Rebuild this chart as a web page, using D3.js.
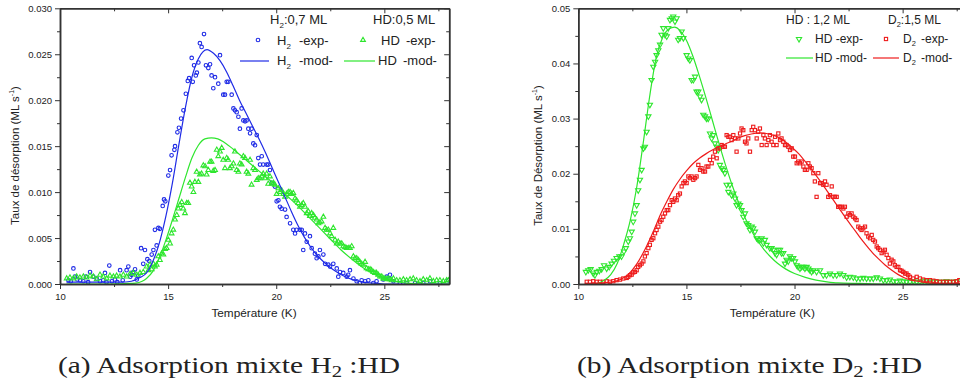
<!DOCTYPE html>
<html><head><meta charset="utf-8">
<script src="https://cdn.jsdelivr.net/npm/d3@7"></script>
<style>
body{margin:0;background:#fff}
svg text{fill:#222}
.sans{font-family:"Liberation Sans",Arial,sans-serif}
.serif{font-family:"Liberation Serif","Times New Roman",serif}
</style></head>
<body><svg id="c" width="960" height="385"></svg>
<script>
// ---------- data ----------
const xDomain = [10, 28];
const xMajorTicks = [10, 15, 20, 25];
const xMinorTicks = [12.5, 17.5, 22.5, 27.5];
const yTicksA = [0, 0.005, 0.010, 0.015, 0.020, 0.025, 0.030];
const yMinorA = [0.0025, 0.0075, 0.0125, 0.0175, 0.0225, 0.0275];
const yTicksB = [0, 0.01, 0.02, 0.03, 0.04, 0.05];
const yMinorB = [0.005, 0.015, 0.025, 0.035, 0.045];

// panel (a) H2 experimental (T [K], rate [ML/s])
const h2ExpA = [[10.39,0.0004],[10.5,0.0003],[10.62,0.0017],[10.69,0.0008],[10.8,0.0005],[10.93,0.0004],[11.08,0.0003],[11.2,0.0008],[11.3,0.0002],[11.39,0.0013],[11.54,0.0008],[11.7,0.0006],[11.85,0.0003],[12.0,0.0004],[12.08,0.0012],[12.15,0.0002],[12.28,0.002],[12.4,0.0003],[12.54,0.0005],[12.65,0.0002],[12.78,0.0015],[12.9,0.0004],[13.08,0.0015],[13.16,0.0019],[13.25,0.0008],[13.31,0.001],[13.39,0.0013],[13.47,0.0016],[13.55,0.0005],[13.62,0.0009],[13.75,0.0039],[13.85,0.0022],[13.93,0.0037],[14.04,0.0027],[14.13,0.0025],[14.24,0.0032],[14.32,0.0037],[14.39,0.0059],[14.47,0.0042],[14.55,0.0061],[14.62,0.006],[14.75,0.0085],[14.81,0.0092],[14.87,0.009],[15.01,0.0118],[15.09,0.0124],[15.16,0.014],[15.29,0.0146],[15.32,0.015],[15.43,0.0165],[15.5,0.017],[15.6,0.018],[15.71,0.0189],[15.82,0.0207],[15.91,0.0221],[15.97,0.0224],[16.09,0.0246],[16.14,0.022],[16.2,0.0238],[16.28,0.0227],[16.33,0.023],[16.4,0.0241],[16.47,0.0262],[16.55,0.0258],[16.66,0.0272],[16.75,0.0238],[16.86,0.0235],[16.94,0.0239],[17.01,0.0227],[17.09,0.0213],[17.17,0.0225],[17.32,0.0218],[17.4,0.0249],[17.55,0.0206],[17.63,0.0206],[17.71,0.022],[17.78,0.022],[17.94,0.0206],[18.02,0.0191],[18.09,0.0189],[18.17,0.0187],[18.25,0.0182],[18.32,0.0169],[18.4,0.0191],[18.48,0.0178],[18.56,0.0177],[18.63,0.0178],[18.71,0.0169],[18.79,0.0164],[18.86,0.0169],[18.94,0.0153],[19.02,0.0151],[19.1,0.0162],[19.17,0.0137],[19.25,0.013],[19.33,0.0139],[19.4,0.013],[19.56,0.013],[19.63,0.013],[19.71,0.0124],[19.79,0.011],[19.94,0.0106],[20.02,0.009],[20.1,0.0091],[20.17,0.0084],[20.25,0.0082],[20.41,0.0081],[20.48,0.0073],[20.64,0.0066],[20.79,0.0059],[20.87,0.0055],[20.94,0.0059],[21.1,0.0059],[21.18,0.0059],[21.25,0.0037],[21.33,0.0055],[21.41,0.0046],[21.56,0.0052],[21.64,0.0039],[21.79,0.0033],[21.87,0.0028],[21.95,0.003],[22.02,0.0037],[22.18,0.0032],[22.26,0.0022],[22.41,0.0021],[22.49,0.0019],[22.64,0.0022],[22.8,0.0017],[22.87,0.0008],[22.95,0.0013],[23.1,0.0012],[23.26,0.0008],[23.33,0.001],[23.41,0.0015],[23.57,0.0006],[23.72,0.0003],[23.87,0.0001],[23.95,0.0004],[24.11,0.0003],[24.26,0.0004],[24.49,0.0001],[24.64,0.0003],[24.95,0.0005],[25.11,0.0008],[25.26,0.001],[25.42,0.0003],[25.72,0.0001],[26.03,0.0001],[26.42,0.0001],[26.8,0.0001],[27.11,0.0003],[27.57,0.0001],[27.96,0.0004]];

// panel (a) HD experimental
const hdExpA = [[10.31,0.0006],[10.46,0.0007],[10.62,0.0006],[10.77,0.0008],[10.92,0.0007],[11.08,0.0008],[11.23,0.0007],[11.39,0.0009],[11.54,0.0008],[11.70,0.0005],[11.85,0.001],[12.00,0.0008],[12.16,0.0006],[12.31,0.0009],[12.47,0.0008],[12.62,0.0009],[12.77,0.0008],[12.93,0.001],[13.08,0.0008],[13.24,0.0011],[13.39,0.0012],[13.55,0.001],[13.70,0.0012],[13.85,0.0013],[14.01,0.0019],[14.09,0.0015],[14.16,0.0021],[14.24,0.0016],[14.32,0.0022],[14.39,0.0019],[14.47,0.0021],[14.55,0.003],[14.62,0.0026],[14.70,0.0033],[14.78,0.0032],[14.86,0.0038],[14.93,0.0039],[15.01,0.0048],[15.09,0.0044],[15.16,0.0055],[15.24,0.0059],[15.32,0.007],[15.40,0.0075],[15.47,0.0082],[15.55,0.0086],[15.63,0.0089],[15.70,0.0082],[15.78,0.0077],[15.86,0.0088],[15.93,0.0088],[16.01,0.011],[16.09,0.0106],[16.17,0.01],[16.24,0.0111],[16.32,0.0122],[16.40,0.0111],[16.47,0.0119],[16.55,0.012],[16.63,0.0129],[16.71,0.0128],[16.78,0.0119],[16.86,0.0124],[16.94,0.0133],[17.01,0.0133],[17.09,0.0123],[17.17,0.0124],[17.25,0.0146],[17.32,0.0139],[17.40,0.0144],[17.48,0.0148],[17.55,0.0135],[17.63,0.0126],[17.71,0.0137],[17.78,0.0135],[17.86,0.0126],[17.94,0.0128],[18.02,0.0131],[18.09,0.0144],[18.17,0.0124],[18.25,0.0122],[18.32,0.0131],[18.40,0.013],[18.48,0.0139],[18.56,0.0137],[18.63,0.0122],[18.71,0.012],[18.79,0.0135],[18.86,0.0108],[18.94,0.0126],[19.02,0.0124],[19.10,0.0113],[19.17,0.0115],[19.25,0.0115],[19.33,0.0117],[19.40,0.012],[19.48,0.0115],[19.56,0.012],[19.63,0.0109],[19.71,0.0117],[19.79,0.0109],[19.87,0.011],[19.94,0.0108],[20.02,0.0098],[20.10,0.0104],[20.17,0.01],[20.25,0.0102],[20.33,0.0098],[20.41,0.0095],[20.48,0.0098],[20.56,0.01],[20.64,0.01],[20.71,0.0098],[20.79,0.0099],[20.87,0.0093],[20.94,0.0091],[21.02,0.0088],[21.10,0.0084],[21.18,0.0086],[21.25,0.0088],[21.33,0.0084],[21.41,0.0077],[21.48,0.0079],[21.56,0.0074],[21.64,0.0077],[21.72,0.0075],[21.79,0.0072],[21.87,0.007],[21.95,0.0066],[22.02,0.0067],[22.10,0.0068],[22.18,0.0073],[22.26,0.0061],[22.33,0.0059],[22.41,0.0059],[22.49,0.0055],[22.56,0.0052],[22.64,0.0061],[22.72,0.0048],[22.80,0.0044],[22.87,0.0046],[22.95,0.0044],[23.03,0.0044],[23.10,0.0041],[23.18,0.004],[23.26,0.0039],[23.33,0.0039],[23.41,0.0039],[23.49,0.0041],[23.57,0.003],[23.64,0.0028],[23.72,0.0028],[23.80,0.0026],[23.87,0.0024],[23.95,0.0022],[24.03,0.0021],[24.11,0.0024],[24.18,0.0017],[24.26,0.0016],[24.34,0.0016],[24.41,0.0015],[24.49,0.0013],[24.57,0.0012],[24.64,0.0012],[24.72,0.001],[24.80,0.0008],[24.88,0.0008],[24.95,0.0006],[25.03,0.0006],[25.11,0.0005],[25.18,0.0006],[25.26,0.0005],[25.34,0.0004],[25.42,0.0006],[25.57,0.0004],[25.72,0.0004],[25.88,0.0005],[26.03,0.0004],[26.19,0.0005],[26.34,0.0006],[26.49,0.0004],[26.65,0.0003],[26.80,0.0005],[26.96,0.0004],[27.11,0.0006],[27.27,0.0003],[27.42,0.0004],[27.57,0.0004],[27.73,0.0003],[27.88,0.0004],[27.96,0.0004]];

// panel (a) models
const h2ModA = [[10.3,0.0002],[11,0.0002],[12,0.0002],[12.8,0.0002],[13.3,0.0003],[13.7,0.0007],[14.0,0.0012],[14.3,0.0025],[14.6,0.0045],[14.9,0.0074],[15.2,0.011],[15.5,0.0152],[15.8,0.0192],[16.1,0.0225],[16.4,0.0245],[16.8,0.0255],[17.1,0.0251],[17.4,0.0243],[17.7,0.0231],[18.0,0.0216],[18.3,0.02],[18.6,0.0186],[18.9,0.0172],[19.2,0.0158],[19.5,0.0143],[19.8,0.0127],[20.1,0.0111],[20.4,0.0095],[20.7,0.0079],[21.0,0.0064],[21.3,0.0051],[21.6,0.004],[21.9,0.0031],[22.2,0.0024],[22.5,0.0018],[22.8,0.0013],[23.1,0.0009],[23.5,0.0005],[24.0,0.0002],[24.5,0.0001],[25,0],[28,0]];
const hdModA = [[10.3,0],[11,0],[12,0],[13,0.00005],[13.5,0.0001],[13.8,0.0003],[14.0,0.0006],[14.3,0.0014],[14.6,0.0029],[14.9,0.0048],[15.2,0.007],[15.5,0.0093],[15.8,0.0116],[16.1,0.0137],[16.4,0.0151],[16.7,0.0158],[17.0,0.0159],[17.3,0.0158],[17.6,0.0154],[18.0,0.0147],[18.5,0.0137],[19.0,0.0127],[19.5,0.0117],[20.0,0.0107],[20.5,0.0096],[21.0,0.0085],[21.5,0.0073],[22.0,0.0061],[22.5,0.0049],[23.0,0.0037],[23.5,0.0027],[24.0,0.0018],[24.5,0.0011],[25.0,0.0006],[25.5,0.0003],[26.0,0.0001],[27,0],[28,0]];

// panel (b) HD experimental
const hdExpB = [[10.35,0.0022],[10.46,0.0025],[10.57,0.0027],[10.69,0.0019],[10.77,0.0016],[10.85,0.0022],[10.97,0.0024],[11.08,0.0027],[11.19,0.0034],[11.31,0.0028],[11.43,0.0031],[11.54,0.0037],[11.65,0.0042],[11.77,0.0047],[11.90,0.005],[12.00,0.005],[12.11,0.0059],[12.20,0.0065],[12.31,0.0077],[12.39,0.0083],[12.47,0.0095],[12.54,0.0113],[12.62,0.0128],[12.70,0.0143],[12.77,0.017],[12.85,0.0189],[12.93,0.0207],[13.01,0.0246],[13.08,0.0249],[13.16,0.0276],[13.24,0.0304],[13.31,0.0325],[13.39,0.037],[13.47,0.0394],[13.55,0.0403],[13.62,0.0415],[13.70,0.0424],[13.78,0.0434],[13.85,0.0452],[13.93,0.0464],[14.01,0.0452],[14.09,0.0449],[14.16,0.0464],[14.24,0.0479],[14.32,0.0482],[14.39,0.0485],[14.47,0.0476],[14.55,0.0482],[14.62,0.0443],[14.70,0.0446],[14.78,0.0458],[14.86,0.0446],[15.01,0.0415],[15.09,0.0409],[15.16,0.0406],[15.24,0.037],[15.32,0.037],[15.40,0.0376],[15.47,0.0349],[15.55,0.0349],[15.63,0.034],[15.70,0.0334],[15.78,0.0307],[15.86,0.0304],[15.93,0.03],[16.01,0.03],[16.09,0.0273],[16.17,0.0264],[16.24,0.027],[16.32,0.0255],[16.40,0.0249],[16.47,0.0243],[16.55,0.0216],[16.63,0.021],[16.71,0.0207],[16.78,0.0201],[16.86,0.018],[16.94,0.0167],[17.01,0.018],[17.09,0.0161],[17.17,0.0164],[17.25,0.0155],[17.32,0.0143],[17.40,0.0146],[17.48,0.0143],[17.55,0.0134],[17.63,0.0122],[17.71,0.0128],[17.78,0.011],[17.86,0.0107],[17.94,0.0098],[18.02,0.0104],[18.09,0.0101],[18.17,0.0095],[18.25,0.0083],[18.32,0.008],[18.40,0.008],[18.48,0.0083],[18.56,0.0074],[18.63,0.008],[18.71,0.0071],[18.86,0.0065],[18.94,0.0065],[19.02,0.0062],[19.10,0.0056],[19.17,0.0053],[19.25,0.0062],[19.33,0.0062],[19.40,0.0056],[19.48,0.0056],[19.56,0.0037],[19.63,0.0044],[19.71,0.0041],[19.79,0.005],[19.87,0.0047],[19.94,0.0047],[20.02,0.0041],[20.10,0.0034],[20.17,0.0031],[20.25,0.0028],[20.33,0.0031],[20.41,0.0031],[20.48,0.0028],[20.56,0.0031],[20.64,0.0028],[20.71,0.0025],[20.79,0.0022],[20.87,0.0025],[21.02,0.0022],[21.18,0.0025],[21.33,0.0016],[21.48,0.0016],[21.64,0.0019],[21.79,0.0016],[21.95,0.0016],[22.10,0.0019],[22.26,0.0016],[22.41,0.0012],[22.56,0.0013],[22.72,0.0012],[22.87,0.001],[23.03,0.001],[23.18,0.0011],[23.33,0.001],[23.49,0.001],[23.64,0.001],[23.80,0.0012],[23.95,0.001],[24.11,0.0007],[24.26,0.0007],[24.41,0.0008],[24.57,0.0005],[24.72,0.0004],[24.88,0.0006],[25.03,0.0005],[25.18,0.0004],[25.34,0.0004],[25.49,0.0005],[25.65,0.0004],[25.80,0.0004],[25.95,0.0006],[26.11,0.0005],[26.26,0.0004],[26.42,0.0005],[26.57,0.0004],[26.72,0.0004],[26.88,0.0004],[27.03,0.0005],[27.19,0.0004],[27.34,0.0004],[27.50,0.0005]];

// panel (b) D2 experimental
const d2ExpB = [[10.39,0.0004],[10.54,0.0004],[10.69,0.0005],[10.85,0.0004],[11.0,0.0004],[11.16,0.0004],[11.31,0.0005],[11.46,0.0004],[11.62,0.0005],[11.77,0.0007],[11.93,0.0008],[12.08,0.001],[12.24,0.0011],[12.31,0.0013],[12.39,0.0016],[12.47,0.0017],[12.54,0.0021],[12.62,0.0022],[12.70,0.0025],[12.77,0.0031],[12.85,0.0034],[12.93,0.0037],[13.01,0.0041],[13.08,0.005],[13.16,0.0056],[13.24,0.0065],[13.31,0.0071],[13.39,0.008],[13.47,0.0083],[13.55,0.0092],[13.62,0.0098],[13.70,0.0104],[13.78,0.0113],[13.85,0.0116],[13.93,0.0122],[14.01,0.0128],[14.09,0.0134],[14.16,0.0134],[14.24,0.0143],[14.32,0.0152],[14.39,0.0149],[14.47,0.0155],[14.55,0.0152],[14.62,0.0161],[14.70,0.0164],[14.78,0.0177],[14.86,0.0183],[14.93,0.0186],[15.01,0.0183],[15.09,0.0195],[15.16,0.0192],[15.24,0.0195],[15.32,0.0189],[15.40,0.0192],[15.47,0.0195],[15.55,0.0216],[15.63,0.0207],[15.70,0.021],[15.78,0.0204],[15.86,0.0204],[15.93,0.0213],[16.01,0.0213],[16.09,0.0225],[16.17,0.0219],[16.24,0.0231],[16.32,0.024],[16.40,0.0228],[16.47,0.0246],[16.55,0.0246],[16.63,0.0252],[16.71,0.0249],[16.78,0.0249],[16.86,0.027],[16.94,0.0267],[17.01,0.0267],[17.09,0.0261],[17.17,0.027],[17.25,0.0264],[17.32,0.024],[17.40,0.0264],[17.48,0.0273],[17.55,0.0282],[17.63,0.0279],[17.71,0.0258],[17.78,0.0255],[17.86,0.0264],[17.94,0.024],[18.02,0.0279],[18.09,0.0285],[18.17,0.0279],[18.25,0.0264],[18.32,0.0276],[18.40,0.0282],[18.48,0.0252],[18.56,0.027],[18.63,0.0264],[18.71,0.0252],[18.79,0.0261],[18.86,0.027],[18.94,0.0258],[19.02,0.0252],[19.10,0.0267],[19.17,0.0252],[19.25,0.0273],[19.33,0.0261],[19.40,0.0264],[19.48,0.0258],[19.56,0.0252],[19.63,0.0252],[19.71,0.0249],[19.79,0.0243],[19.87,0.0246],[19.94,0.0231],[20.02,0.0231],[20.10,0.0219],[20.17,0.0222],[20.25,0.0219],[20.33,0.0222],[20.41,0.0213],[20.48,0.0207],[20.56,0.0207],[20.64,0.0219],[20.71,0.0213],[20.79,0.021],[20.87,0.0201],[20.94,0.0186],[21.02,0.0158],[21.10,0.0201],[21.18,0.0183],[21.25,0.0183],[21.33,0.018],[21.41,0.0186],[21.48,0.018],[21.56,0.0158],[21.64,0.0161],[21.72,0.0177],[21.79,0.0158],[21.87,0.0158],[21.95,0.0158],[22.02,0.014],[22.10,0.014],[22.18,0.014],[22.26,0.0137],[22.33,0.014],[22.41,0.0122],[22.49,0.0128],[22.56,0.0125],[22.64,0.0128],[22.72,0.0122],[22.80,0.0119],[22.87,0.0116],[22.95,0.0104],[23.03,0.0101],[23.10,0.0098],[23.18,0.0101],[23.26,0.0104],[23.33,0.0092],[23.41,0.0086],[23.49,0.0083],[23.57,0.0089],[23.64,0.008],[23.72,0.0077],[23.80,0.0068],[23.87,0.0065],[23.95,0.0062],[24.03,0.0056],[24.11,0.0059],[24.18,0.0062],[24.26,0.0053],[24.34,0.0047],[24.41,0.0037],[24.49,0.0044],[24.57,0.0041],[24.64,0.0034],[24.72,0.0031],[24.80,0.0031],[24.88,0.0025],[24.95,0.0024],[25.03,0.0022],[25.11,0.0019],[25.18,0.0019],[25.26,0.0016],[25.34,0.0013],[25.49,0.001],[25.65,0.0013],[25.80,0.001],[25.95,0.0008],[26.11,0.0007],[26.26,0.0007],[26.42,0.0006],[26.57,0.0005],[26.72,0.0004],[26.88,0.0004],[27.03,0.0004],[27.19,0.0004],[27.34,0.0004],[27.50,0.0005],[27.62,0.0007]];

// panel (b) models
const hdModB = [[10.9,0.0001],[11.2,0.0007],[11.5,0.0017],[11.8,0.0037],[12.1,0.0072],[12.4,0.0115],[12.7,0.0175],[13.0,0.0255],[13.3,0.034],[13.6,0.041],[13.9,0.0447],[14.2,0.0463],[14.45,0.0466],[14.7,0.046],[15.0,0.0442],[15.3,0.0413],[15.6,0.0377],[15.9,0.0338],[16.2,0.0297],[16.5,0.0256],[16.8,0.0217],[17.1,0.0181],[17.4,0.0149],[17.7,0.0121],[18.0,0.0097],[18.3,0.0078],[18.6,0.0062],[18.9,0.0049],[19.2,0.0038],[19.6,0.0027],[20.0,0.0019],[20.5,0.0012],[21.0,0.0007],[21.5,0.0004],[22.0,0.0002],[23.0,0.0001],[24.0,0],[28,0]];
const d2ModB = [[10.3,0.0001],[11.0,0.0002],[11.6,0.0004],[12.0,0.0009],[12.3,0.0017],[12.7,0.0036],[13.1,0.0064],[13.5,0.0098],[13.8,0.0126],[14.1,0.015],[14.4,0.0172],[14.7,0.019],[15.0,0.0205],[15.3,0.0218],[15.6,0.0228],[15.9,0.0236],[16.2,0.0243],[16.5,0.0249],[16.8,0.0254],[17.1,0.0259],[17.4,0.0265],[17.7,0.0269],[18.0,0.0272],[18.4,0.0274],[18.7,0.0273],[19.0,0.027],[19.3,0.0265],[19.6,0.0257],[19.9,0.0247],[20.2,0.0236],[20.5,0.0222],[20.8,0.0207],[21.2,0.0186],[21.5,0.0169],[21.8,0.0152],[22.1,0.0135],[22.4,0.0118],[22.7,0.0102],[23.0,0.0086],[23.3,0.0071],[23.6,0.0057],[23.9,0.0045],[24.2,0.0034],[24.5,0.0025],[24.8,0.0017],[25.1,0.0011],[25.4,0.0007],[25.7,0.0005],[26.0,0.0003],[26.6,0.0001],[28,0.0001]];

const xTitle = "Température (K)";
const colBlue = "#1f2be6", colGreen = "#2ee62e", colRed = "#ee1c1c";

// ---------- drawing ----------
const svg = d3.select("#c");
const PW = 389.2, TOP = 8.3, BOT = 284;

function rich(g, x, y, parts, size) {
  const t = g.append("text").attr("class", "sans").attr("x", x).attr("y", y).attr("font-size", size).style("white-space", "pre");
  let shifted = 0;
  parts.forEach(p => {
    const s = t.append("tspan").text(p.t);
    if (p.sub) { const d = size * 0.28; s.attr("font-size", size * 0.62).attr("dy", d); shifted = d; }
    else if (shifted) { s.attr("dy", -shifted); shifted = 0; }
  });
  return t;
}
function label(g, x, y, txt, size) {
  return g.append("text").attr("class", "sans").attr("x", x).attr("y", y).attr("font-size", size).text(txt);
}

function marker(g, type, cx, cy, color) {
  if (type === "circle") {
    g.append("circle").attr("cx", cx).attr("cy", cy).attr("r", 1.8).attr("fill", "none").attr("stroke", color).attr("stroke-width", 1.1);
  } else if (type === "up") {
    g.append("path").attr("d", d3.symbol(d3.symbolTriangle, 10)()).attr("transform", `translate(${cx},${cy})`).attr("fill", "none").attr("stroke", color).attr("stroke-width", 1.1);
  } else if (type === "down") {
    g.append("path").attr("d", d3.symbol(d3.symbolTriangle, 12)()).attr("transform", `translate(${cx},${cy}) rotate(180)`).attr("fill", "none").attr("stroke", color).attr("stroke-width", 1.1);
  } else if (type === "square") {
    g.append("rect").attr("x", cx - 1.6).attr("y", cy - 1.6).attr("width", 3.2).attr("height", 3.2).attr("fill", "none").attr("stroke", color).attr("stroke-width", 1.1);
  }
}

function panel(cfg) {
  const g = svg.append("g");
  const x = d3.scaleLinear().domain(xDomain).range([cfg.left, cfg.left + PW]);
  const y = d3.scaleLinear().domain([0, cfg.ymax]).range([BOT, TOP]);
  const clipId = "clip" + cfg.id;
  svg.append("clipPath").attr("id", clipId).append("rect")
    .attr("x", cfg.left).attr("y", TOP - 4).attr("width", PW).attr("height", BOT - TOP + 4);
  const plot = g.append("g").attr("clip-path", `url(#${clipId})`);

  const line = d3.line().x(d => x(d[0])).y(d => y(d[1])).curve(d3.curveMonotoneX);
  cfg.series.forEach(s => {
    const sg = plot.append("g");
    s.exp.forEach(d => marker(sg, s.marker, x(d[0]), y(d[1]), s.color));
  });
  cfg.series.forEach(s => {
    plot.append("path").datum(s.mod).attr("d", line).attr("fill", "none").attr("stroke", s.color).attr("stroke-width", 1.2);
  });

  const styleAxis = a => {
    a.select(".domain").attr("stroke", "#333").attr("stroke-width", 1.5);
    a.selectAll(".tick line").attr("stroke", "#333").attr("stroke-width", 1);
    a.selectAll("text").attr("font-size", 9.5).attr("fill", "#222").attr("class", "sans");
  };
  g.append("g").attr("transform", `translate(0,${BOT})`)
    .call(d3.axisBottom(x).tickValues(xMajorTicks).tickSize(5).tickSizeOuter(0).tickPadding(4).tickFormat(d3.format("d"))).call(styleAxis);
  g.append("g").attr("transform", `translate(0,${BOT})`)
    .call(d3.axisBottom(x).tickValues(xMinorTicks).tickSize(3).tickSizeOuter(0).tickFormat("")).call(styleAxis);
  g.append("g").attr("transform", `translate(0,${TOP})`)
    .call(d3.axisBottom(x).tickValues(xMajorTicks).tickSize(5).tickSizeOuter(0).tickFormat("")).call(styleAxis);
  g.append("g").attr("transform", `translate(0,${TOP})`)
    .call(d3.axisBottom(x).tickValues(xMinorTicks).tickSize(3).tickSizeOuter(0).tickFormat("")).call(styleAxis);
  g.append("g").attr("transform", `translate(${cfg.left},0)`)
    .call(d3.axisLeft(y).tickValues(cfg.yTicks).tickSize(5).tickSizeOuter(0).tickPadding(3).tickFormat(d3.format(cfg.fmt))).call(styleAxis);
  g.append("g").attr("transform", `translate(${cfg.left},0)`)
    .call(d3.axisLeft(y).tickValues(cfg.yMinor).tickSize(3).tickSizeOuter(0).tickFormat("")).call(styleAxis);
  g.append("g").attr("transform", `translate(${cfg.left + PW},0)`)
    .call(d3.axisLeft(y).tickValues(cfg.yTicks).tickSize(5).tickSizeOuter(0).tickFormat("")).call(styleAxis);
  g.append("g").attr("transform", `translate(${cfg.left + PW},0)`)
    .call(d3.axisLeft(y).tickValues(cfg.yMinor).tickSize(3).tickSizeOuter(0).tickFormat("")).call(styleAxis);

  g.append("text").attr("class", "sans").attr("x", cfg.left + 194).attr("y", 317).attr("text-anchor", "middle").attr("font-size", 11.8).text(xTitle);
  const yt = g.append("g").attr("transform", `translate(${cfg.ytX},155.5) rotate(-90)`);
  const ytt = yt.append("text").attr("class", "sans").attr("text-anchor", "middle").attr("font-size", 11.5);
  ytt.append("tspan").text(cfg.yTitle + " (ML s");
  ytt.append("tspan").attr("font-size", 7).attr("dy", -4.5).text("-1");
  ytt.append("tspan").attr("dy", 4.5).text(")");

  cfg.legend(g.append("g"));

  const cap = g.append("text").attr("class", "serif").attr("x", cfg.capX).attr("y", 373).attr("font-size", 23.5)
    .style("white-space", "pre")
    .attr("textLength", cfg.capW).attr("lengthAdjust", "spacingAndGlyphs");
  cap.append("tspan").text(cfg.capPre);
  cap.append("tspan").attr("font-size", 16.5).attr("dy", 4).text("2");
  cap.append("tspan").attr("dy", -4).text(" :HD");
}

panel({
  id: "a", left: 60, ymax: 0.030, yTicks: yTicksA, yMinor: yMinorA, fmt: ".3f",
  yTitle: "Taux de désorption", ytX: 18.5,
  capX: 58, capW: 342, capPre: "(a) Adsorption mixte H",
  series: [
    { exp: h2ExpA, mod: h2ModA, color: colBlue, marker: "circle" },
    { exp: hdExpA, mod: hdModA, color: colGreen, marker: "up" }
  ],
  legend: lg => {
    rich(lg, 270, 24, [{t:"H"},{t:"2",sub:true},{t:":0,7 ML"}], 13);
    label(lg, 373, 24, "HD:0,5 ML", 13);
    marker(lg, "circle", 258, 40, colBlue);
    rich(lg, 277, 45, [{t:"H"},{t:"2",sub:true}], 13);
    label(lg, 299, 45, "-exp-", 13);
    marker(lg, "up", 363, 40, colGreen);
    label(lg, 381, 45, "HD", 13);
    label(lg, 406, 45, "-exp-", 13);
    lg.append("line").attr("x1", 240).attr("x2", 269).attr("y1", 61).attr("y2", 61).attr("stroke", colBlue).attr("stroke-width", 1.2);
    rich(lg, 277, 65, [{t:"H"},{t:"2",sub:true}], 13);
    label(lg, 299, 65, "-mod-", 13);
    lg.append("line").attr("x1", 344).attr("x2", 375).attr("y1", 61).attr("y2", 61).attr("stroke", colGreen).attr("stroke-width", 1.2);
    label(lg, 378, 65, "HD", 13);
    label(lg, 403, 65, "-mod-", 13);
  }
});

panel({
  id: "b", left: 578.3, ymax: 0.05, yTicks: yTicksB, yMinor: yMinorB, fmt: ".2f",
  yTitle: "Taux de Désorption", ytX: 541.5,
  capX: 577, capW: 345, capPre: "(b) Adsorption mixte D",
  series: [
    { exp: hdExpB, mod: hdModB, color: colGreen, marker: "down" },
    { exp: d2ExpB, mod: d2ModB, color: colRed, marker: "square" }
  ],
  legend: lg => {
    label(lg, 786, 24, "HD : 1,2 ML", 12);
    rich(lg, 888, 24, [{t:"D"},{t:"2",sub:true},{t:":1,5 ML"}], 12);
    marker(lg, "down", 799, 39, colGreen);
    label(lg, 815, 43, "HD -exp-", 12);
    marker(lg, "square", 886, 39, colRed);
    rich(lg, 903, 43, [{t:"D"},{t:"2",sub:true}], 12);
    label(lg, 921, 43, "-exp-", 12);
    lg.append("line").attr("x1", 786).attr("x2", 813).attr("y1", 58).attr("y2", 58).attr("stroke", colGreen).attr("stroke-width", 1.2);
    label(lg, 815, 62, "HD -mod-", 12);
    lg.append("line").attr("x1", 873).attr("x2", 899).attr("y1", 58).attr("y2", 58).attr("stroke", colRed).attr("stroke-width", 1.2);
    rich(lg, 903, 62, [{t:"D"},{t:"2",sub:true}], 12);
    label(lg, 921, 62, "-mod-", 12);
  }
});
</script></body></html>
